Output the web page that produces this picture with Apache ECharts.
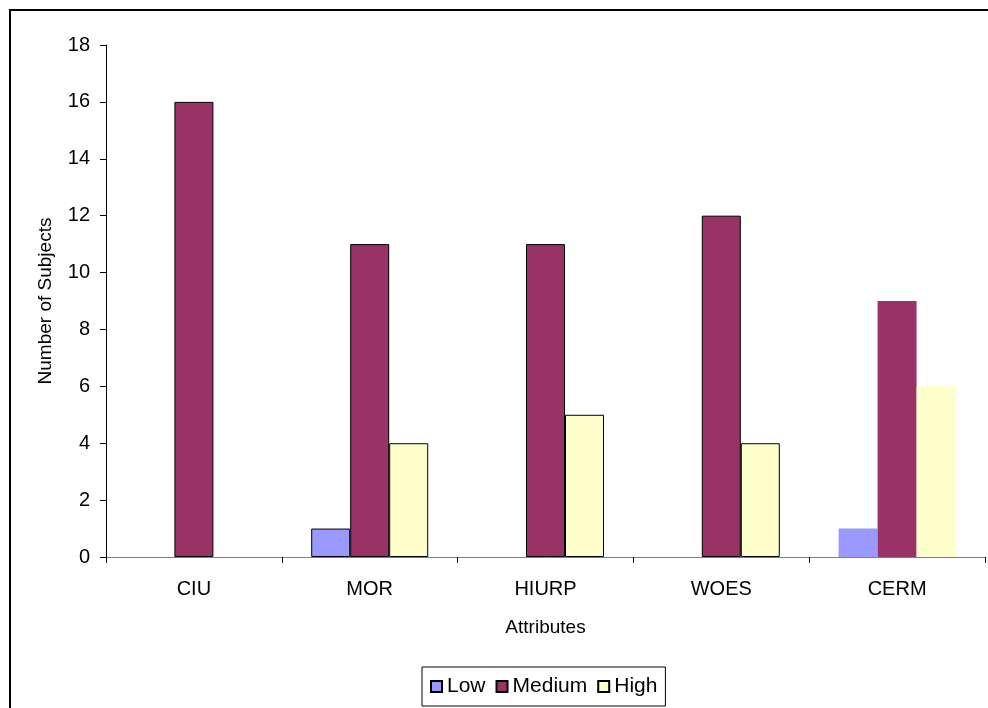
<!DOCTYPE html>
<html>
<head>
<meta charset="utf-8">
<script src="https://cdn.jsdelivr.net/npm/echarts@6/dist/echarts.min.js"></script>
<style>
	html, body { margin: 0; padding: 0; background: #fff; }
	#chart { width: 988px; height: 708px; }
</style>
</head>
<body>
<div id="chart"></div>
<script>
const categories = ["CIU", "MOR", "HIURP", "WOES", "CERM"]
const lowValues = ["-", 1, "-", "-", 1]
const mediumValues = [16, 11, 11, 12, 9]
const highValues = ["-", 4, 5, 4, 6]
const yTicks = [0, 2, 4, 6, 8, 10, 12, 14, 16, 18]

// last group (CERM) is drawn without outlines in the original
const toItems = (values) =>
	values.map((v, i) => ({
		value: v,
		itemStyle: { borderWidth: i === categories.length - 1 ? 0 : 1 },
	}))

const font = "'Liberation Sans', Arial, sans-serif"

const chart = echarts.init(document.getElementById("chart"))

const barSeries = (name, color, values) => ({
	name: name,
	type: "bar",
	barWidth: 39,
	barGap: "0%",
	itemStyle: { color: color, borderColor: "#000", borderWidth: 1 },
	data: toItems(values),
})

chart.setOption({
	animation: false,
	backgroundColor: "#fff",
	textStyle: { fontFamily: font, color: "#000" },
	graphic: [
		{
			type: "rect",
			shape: { x: 10, y: 10, width: 1100, height: 800 },
			style: { fill: "none", stroke: "#000", lineWidth: 2 },
		},
	],
	grid: {
		left: 106,
		right: 3,
		top: 45,
		bottom: 151,
	},
	legend: {
		left: 422,
		top: 667,
		padding: [9, 8, 9, 8],
		itemGap: 10,
		itemWidth: 11,
		itemHeight: 11,
		borderColor: "#000",
		borderWidth: 1,
		icon: "rect",
		textStyle: { fontFamily: font, fontSize: 21, color: "#000" },
		data: ["Low", "Medium", "High"],
	},
	xAxis: {
		type: "category",
		data: categories,
		name: "Attributes",
		nameLocation: "middle",
		nameGap: 61,
		nameTextStyle: { fontFamily: font, fontSize: 19, color: "#000" },
		axisLine: { lineStyle: { color: "#808080", width: 1 } },
		axisTick: { show: true, length: 6, lineStyle: { color: "#000" } },
		axisLabel: { fontFamily: font, fontSize: 20, color: "#000", margin: 22 },
	},
	yAxis: {
		type: "value",
		min: yTicks[0],
		max: yTicks[yTicks.length - 1],
		interval: 2,
		name: "Number of Subjects",
		nameLocation: "middle",
		nameGap: 51,
		nameTextStyle: { fontFamily: font, fontSize: 19, color: "#000" },
		axisLine: { show: true, lineStyle: { color: "#000", width: 1 } },
		axisTick: { show: true, length: 6, lineStyle: { color: "#000" } },
		axisLabel: { fontFamily: font, fontSize: 20, color: "#000", margin: 16 },
		splitLine: { show: false },
	},
	series: [
		barSeries("Low", "#9999FF", lowValues),
		barSeries("Medium", "#993366", mediumValues),
		barSeries("High", "#FFFFCC", highValues),
	],
})
</script>
</body>
</html>
